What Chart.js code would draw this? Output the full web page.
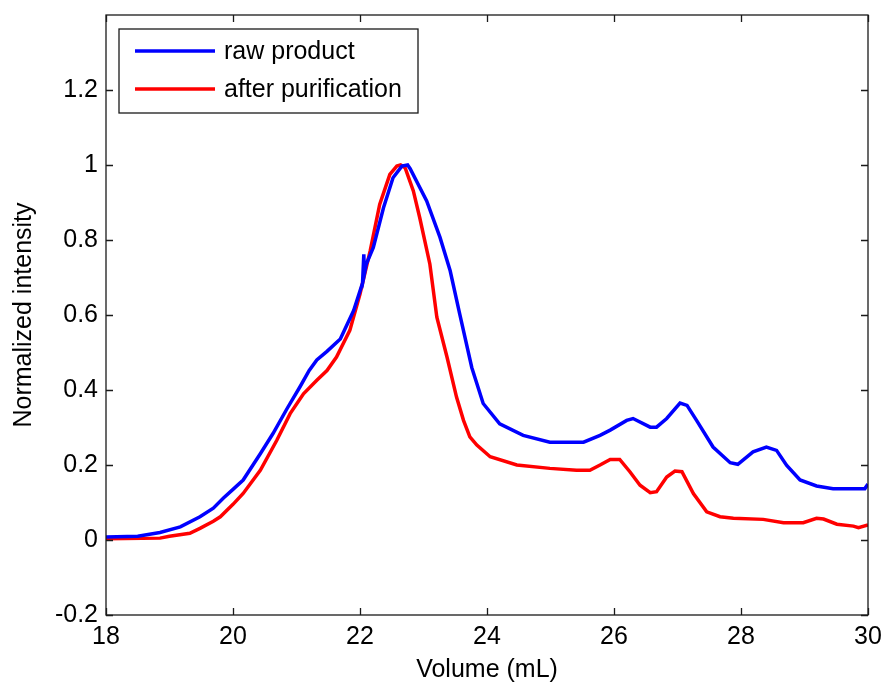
<!DOCTYPE html>
<html>
<head>
<meta charset="utf-8">
<title>Normalized intensity vs volume</title>
<script src="https://cdn.jsdelivr.net/npm/chart.js@4.4.1/dist/chart.umd.min.js"></script>
<style>
  html, body { margin: 0; padding: 0; background: #fff; }
  #wrap { width: 883px; height: 686px; position: relative; }
</style>
</head>
<body>
<div id="wrap"><canvas id="chart"></canvas></div>
<script>
// ---- Data ----
const rawVolume = [18.0, 18.5, 18.85, 19.17, 19.48, 19.69, 19.85, 20.0, 20.16, 20.43, 20.63, 20.85,
  21.06, 21.2, 21.32, 21.48, 21.69, 21.9, 22.04, 22.06, 22.07, 22.1, 22.21, 22.37, 22.52, 22.66,
  22.75, 22.79, 23.05, 23.26, 23.42, 23.57, 23.76, 23.94, 24.2, 24.57, 24.99, 25.52, 25.78, 25.94,
  26.2, 26.3, 26.57, 26.67, 26.83, 27.04, 27.15, 27.3, 27.56, 27.83, 27.95, 28.19, 28.4, 28.56,
  28.72, 28.93, 29.19, 29.45, 29.95, 30.0];
const rawIntensity = [0.008, 0.01, 0.02, 0.035, 0.062, 0.085, 0.112, 0.135, 0.16, 0.23, 0.284, 0.35,
  0.41, 0.452, 0.48, 0.503, 0.536, 0.612, 0.685, 0.762, 0.71, 0.736, 0.78, 0.886, 0.966, 0.997,
  1.0, 0.99, 0.904, 0.807, 0.718, 0.603, 0.46, 0.364, 0.31, 0.279, 0.261, 0.261, 0.279, 0.293,
  0.319, 0.324, 0.301, 0.301, 0.324, 0.365, 0.359, 0.319, 0.248, 0.206, 0.202, 0.235, 0.248, 0.239,
  0.199, 0.16, 0.144, 0.137, 0.137, 0.149];

const purVolume = [18.0, 18.85, 19.0, 19.32, 19.48, 19.69, 19.8, 20.0, 20.16, 20.43, 20.69, 20.9,
  21.11, 21.32, 21.48, 21.63, 21.84, 22.0, 22.16, 22.31, 22.47, 22.58, 22.64, 22.71, 22.84, 22.94,
  23.1, 23.21, 23.37, 23.52, 23.63, 23.73, 23.84, 24.05, 24.47, 24.99, 25.41, 25.62, 25.78, 25.94,
  26.09, 26.25, 26.41, 26.57, 26.67, 26.83, 26.96, 27.07, 27.25, 27.46, 27.67, 27.88, 28.35, 28.67,
  28.98, 29.19, 29.3, 29.51, 29.77, 29.85, 30.0];
const purIntensity = [0.003, 0.005, 0.01, 0.018, 0.031, 0.05, 0.062, 0.095, 0.124, 0.186, 0.266, 0.337,
  0.39, 0.426, 0.452, 0.488, 0.559, 0.656, 0.771, 0.895, 0.975, 0.997, 1.0, 0.993, 0.931, 0.86,
  0.736, 0.594, 0.488, 0.381, 0.319, 0.275, 0.253, 0.222, 0.2, 0.191, 0.186, 0.186, 0.2, 0.215,
  0.215, 0.182, 0.146, 0.126, 0.129, 0.168, 0.184, 0.182, 0.124, 0.075, 0.062, 0.058, 0.055, 0.046,
  0.046, 0.058, 0.056, 0.042, 0.037, 0.033, 0.04];

const xTicks = [18, 20, 22, 24, 26, 28, 30];
const yTicks = [-0.2, 0, 0.2, 0.4, 0.6, 0.8, 1, 1.2];

const seriesNames = ['raw product', 'after purification'];
const seriesColors = ['#0000FF', '#FF0000'];

const FONT = "'Liberation Sans', Arial, sans-serif";

// ---- MATLAB-style frame, inward ticks and boxed legend ----
const matlabFrame = {
  id: 'matlabFrame',
  afterDraw(chart) {
    const { ctx, chartArea: a, scales } = chart;
    const tl = 7;
    ctx.save();
    ctx.strokeStyle = '#1a1a1a';
    ctx.lineWidth = 1.3;
    ctx.strokeRect(a.left, a.top, a.right - a.left, a.bottom - a.top);

    ctx.beginPath();
    xTicks.forEach(v => {
      const px = Math.round(scales.x.getPixelForValue(v)) + 0.5;
      ctx.moveTo(px, a.bottom); ctx.lineTo(px, a.bottom - tl);
      ctx.moveTo(px, a.top);    ctx.lineTo(px, a.top + tl);
    });
    yTicks.forEach(v => {
      const py = Math.round(scales.y.getPixelForValue(v)) + 0.5;
      ctx.moveTo(a.left, py);  ctx.lineTo(a.left + tl, py);
      ctx.moveTo(a.right, py); ctx.lineTo(a.right - tl, py);
    });
    ctx.stroke();

    // legend
    const lx = a.left + 13, ly = a.top + 14, lw = 299, lh = 84;
    ctx.fillStyle = '#fff';
    ctx.fillRect(lx, ly, lw, lh);
    ctx.strokeRect(lx, ly, lw, lh);
    ctx.font = '25px ' + FONT;
    ctx.textBaseline = 'middle';
    chart.data.datasets.forEach((ds, i) => {
      const yy = ly + 22 + i * 38;
      ctx.strokeStyle = ds.borderColor;
      ctx.lineWidth = 3.5;
      ctx.beginPath();
      ctx.moveTo(lx + 16, yy); ctx.lineTo(lx + 96, yy);
      ctx.stroke();
      ctx.fillStyle = '#000';
      ctx.fillText(ds.label, lx + 105, yy + 1);
    });
    ctx.restore();
  }
};

function series(i, xs, ys) {
  return {
    label: seriesNames[i],
    data: xs.map((x, k) => ({ x, y: ys[k] })),
    borderColor: seriesColors[i],
    backgroundColor: seriesColors[i],
    borderWidth: 3.5,
    pointRadius: 0,
    tension: 0,
    fill: false
  };
}

// no extra room for half-labels at the axis ends
function noPad(s) {
  s.paddingTop = 0; s.paddingBottom = 0;
  s.paddingLeft = 0; s.paddingRight = 0;
}

new Chart(document.getElementById('chart'), {
  type: 'line',
  data: {
    datasets: [
      series(0, rawVolume, rawIntensity),
      series(1, purVolume, purIntensity)
    ]
  },
  options: {
    responsive: true,
    maintainAspectRatio: false,
    animation: false,
    layout: { padding: { top: 15, right: 15, left: 0, bottom: 0 } },
    plugins: { legend: { display: false }, tooltip: { enabled: false } },
    scales: {
      x: {
        type: 'linear',
        min: 18, max: 30,
        grid: { display: false, drawTicks: false },
        border: { display: false },
        afterBuildTicks: s => { s.ticks = xTicks.map(v => ({ value: v })); },
        afterFit: s => { s.height = 71; noPad(s); },
        ticks: {
          autoSkip: false, maxRotation: 0, padding: 7,
          color: '#000', font: { family: FONT, size: 25 },
          callback: v => String(v)
        },
        title: {
          display: true, text: 'Volume (mL)', color: '#000',
          font: { family: FONT, size: 25 }, padding: { top: 0, bottom: 1 }
        }
      },
      y: {
        min: -0.2, max: 1.4,
        grid: { display: false, drawTicks: false },
        border: { display: false },
        afterBuildTicks: s => { s.ticks = yTicks.map(v => ({ value: v })); },
        afterFit: s => { s.width = 106; noPad(s); },
        ticks: {
          padding: 8,
          color: '#000', font: { family: FONT, size: 25 },
          callback: v => String(Math.round(v * 10) / 10)
        },
        title: {
          display: true, text: 'Normalized intensity', color: '#000',
          font: { family: FONT, size: 25 }, padding: { top: 9, bottom: 0 }
        }
      }
    }
  },
  plugins: [matlabFrame]
});
</script>
</body>
</html>
